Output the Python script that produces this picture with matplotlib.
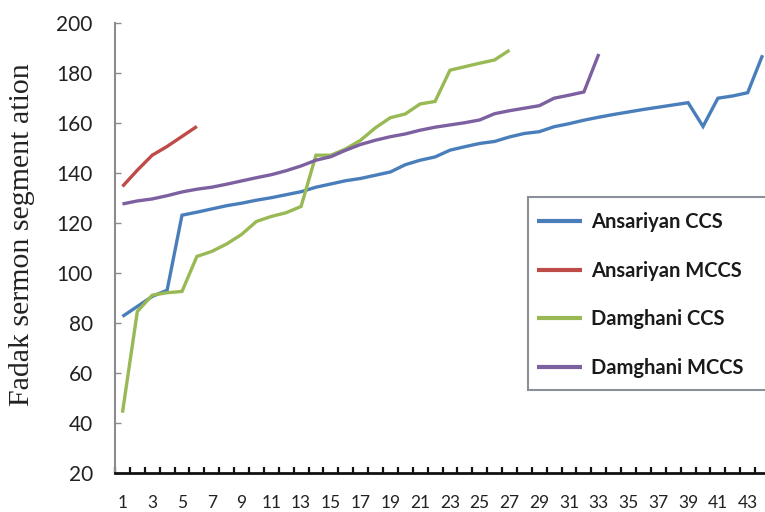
import matplotlib
matplotlib.use("Agg")
import matplotlib.pyplot as plt
from matplotlib.patches import Rectangle
import numpy as np

# ---- data ----
ansariyan_ccs = [82.5, 86.5, 90.5, 93, 123, 124.2, 125.5, 126.8, 127.8, 129, 130, 131.2,
                 132.4, 134.2, 135.5, 136.8, 137.7, 139, 140.3, 143.2, 145, 146.3, 149,
                 150.4, 151.7, 152.5, 154.3, 155.7, 156.4, 158.4, 159.6, 161, 162.2, 163.3,
                 164.3, 165.3, 166.2, 167.1, 168, 158.5, 169.8, 170.7, 172, 187]
ansariyan_mccs = [134.5, 141, 147, 150.5, 154.5, 158.5]
damghani_ccs = [44, 84.5, 91, 92, 92.5, 106.5, 108.5, 111.5, 115.3, 120.5, 122.5, 124,
                126.5, 147, 147, 149.5, 153, 158, 162, 163.5, 167.5, 168.5, 181, 182.4,
                183.8, 185.1, 189]
damghani_mccs = [127.5, 128.7, 129.5, 130.8, 132.3, 133.4, 134.2, 135.4, 136.7, 138, 139.2,
                 140.8, 142.7, 145, 146.4, 149, 151.3, 153, 154.4, 155.5, 157, 158.2, 159.1,
                 160, 161.1, 163.6, 164.8, 165.8, 166.8, 169.8, 171, 172.3, 187.5]
series_names = ["Ansariyan CCS", "Ansariyan MCCS", "Damghani CCS", "Damghani MCCS"]
series_colors = ["#4A7EBB", "#BE4B48", "#98B954", "#7D60A0"]
n_categories = 44
x_labels = [str(i) for i in range(1, n_categories + 1, 2)]
y_ticks = list(range(20, 201, 20))
y_label = "Fadak sermon segment ation"

# ---- figure ----
W, H = 765, 512
fig = plt.figure(figsize=(W / 100, H / 100), dpi=100)
ax = fig.add_axes([115 / W, 39.3 / H, 655 / W, 450 / H])

all_series = [ansariyan_ccs, ansariyan_mccs, damghani_ccs, damghani_mccs]
for vals, name, col in zip(all_series, series_names, series_colors):
    xs = np.arange(1, len(vals) + 1)
    ax.plot(xs, vals, color=col, lw=2.4, label=name, solid_joinstyle="miter",
            solid_capstyle="butt")

ax.set_xlim(0.5, n_categories + 0.5)
ax.set_ylim(20, 200)

for s in ["top", "right"]:
    ax.spines[s].set_visible(False)
ax.spines["left"].set_color("#8c8c8c")
ax.spines["left"].set_linewidth(1.5)
ax.spines["bottom"].set_color("#111111")
ax.spines["bottom"].set_linewidth(2.0)

# x ticks: marks at category boundaries, labels on odd categories
ax.set_xticks(np.arange(0.5, n_categories + 1, 1.0))
ax.set_xticklabels([])
ax.tick_params(axis="x", which="major", direction="in", length=4, width=1.6,
               color="#111111")
ax.set_xticks(np.arange(1, n_categories + 1, 2), minor=True)
ax.set_xticklabels(x_labels, minor=True, fontfamily="Lato", fontsize=12.5,
                   color="#222222")
ax.tick_params(axis="x", which="minor", length=0, pad=16)

ax.set_yticks(y_ticks)
ax.set_yticklabels([str(v) for v in y_ticks], fontfamily="Lato", fontsize=15,
                   color="#222222")
ax.tick_params(axis="y", direction="in", length=4, width=1.0, color="#8c8c8c", pad=16)

fig.text(22 / W, 1 - 235 / H, y_label, rotation=90, ha="center", va="center",
         fontfamily="Liberation Serif", fontsize=21.5, color="#222222")

# legend frame (extends past the right edge as in the reference)
frame = Rectangle((528 / W, 1 - 390 / H), 260 / W, 193 / H, transform=fig.transFigure,
                  fill=True, facecolor="white", edgecolor="#8a8f99", lw=1.5,
                  clip_on=False, zorder=5)
ax.add_patch(frame)
leg = ax.legend(loc="upper left", bbox_to_anchor=(525 / W, 1 - 200 / H),
                bbox_transform=fig.transFigure, frameon=False,
                prop={"family": "Lato", "weight": "bold", "size": 14.5},
                handlelength=2.25, handletextpad=0.45, labelspacing=1.42,
                borderpad=0.6, borderaxespad=0)
leg.set_zorder(6)
for line in leg.get_lines():
    line.set_linewidth(3)
for t in leg.get_texts():
    t.set_color("#1a1a1a")

fig.savefig("out.png", dpi=100)
